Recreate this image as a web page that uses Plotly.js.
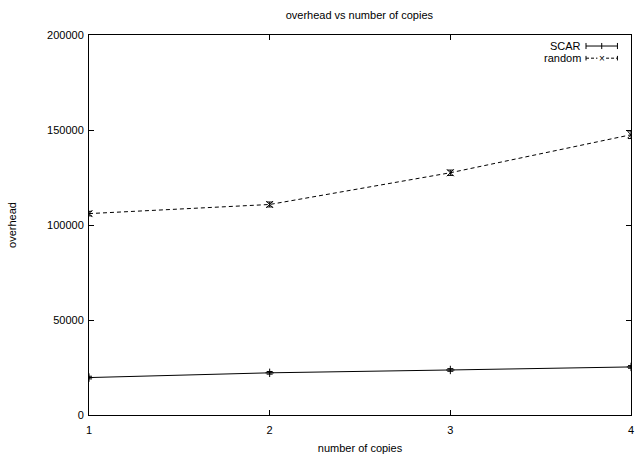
<!DOCTYPE html>
<html>
<head>
<meta charset="utf-8">
<script src="https://cdn.plot.ly/plotly-3.0.1.min.js"></script>
<style>html,body{margin:0;padding:0;background:#fff;}#chart{width:636px;height:458px;}</style>
</head>
<body>
<div id="chart"></div>
<script>
const copies = [1, 2, 3, 4];
const scarOverhead = [19700, 22200, 23700, 25300];
const scarError = [700, 700, 700, 700];
const randomOverhead = [106000, 110800, 127500, 147500];
const randomError = [1200, 1300, 1400, 2000];
const seriesNames = ['SCAR', 'random'];
const xTicks = [1, 2, 3, 4];
const yTicks = [0, 50000, 100000, 150000, 200000];

const font = {family: 'Liberation Sans, Arial, sans-serif', size: 11, color: '#000'};

const traces = [
  {
    x: copies, y: scarOverhead, name: seriesNames[0], type: 'scatter', mode: 'lines+markers',
    line: {color: '#000', width: 1, dash: 'solid'},
    marker: {symbol: 'cross-thin', size: 6, color: '#000', line: {color: '#000', width: 1}},
    error_y: {type: 'data', array: scarError, visible: true, color: '#000', thickness: 1, width: 3},
    showlegend: false
  },
  {
    x: copies, y: randomOverhead, name: seriesNames[1], type: 'scatter', mode: 'lines+markers',
    line: {color: '#000', width: 1, dash: '4px,3px'},
    marker: {symbol: 'x-thin', size: 7, color: '#000', line: {color: '#000', width: 1}},
    error_y: {type: 'data', array: randomError, visible: true, color: '#000', thickness: 1, width: 3},
    showlegend: false
  }
];

const layout = {
  width: 636, height: 458,
  margin: {l: 89, r: 5, t: 35, b: 43},
  paper_bgcolor: '#fff', plot_bgcolor: '#fff',
  font: font,
  title: {text: 'overhead vs number of copies', font: {family: font.family, size: 11, color: '#000'}, x: 0.565, xanchor: 'center', y: 0.975, yanchor: 'top'},
  xaxis: {
    range: [1, 4], tickvals: xTicks, ticktext: xTicks.map(String),
    showgrid: false, zeroline: false, showline: true, linecolor: '#000', linewidth: 1, mirror: 'ticks',
    ticks: 'inside', ticklen: 5, tickcolor: '#000', tickfont: font, ticklabelstandoff: 5,
    title: {text: 'number of copies', font: font, standoff: 9}
  },
  yaxis: {
    range: [0, 200000], tickvals: yTicks, ticktext: yTicks.map(String),
    showgrid: false, zeroline: false, showline: true, linecolor: '#000', linewidth: 1, mirror: 'ticks',
    ticks: 'inside', ticklen: 5, tickcolor: '#000', tickfont: font, ticklabelstandoff: 2,
    title: {text: 'overhead', font: font, standoff: 28}
  },
  showlegend: false,
  annotations: [
    {xref: 'paper', yref: 'paper', x: 0.911, y: 0.971, xanchor: 'right', yanchor: 'middle', text: seriesNames[0], showarrow: false, font: font},
    {xref: 'paper', yref: 'paper', x: 0.911, y: 0.939, xanchor: 'right', yanchor: 'middle', text: seriesNames[1], showarrow: false, font: font},
    {xref: 'paper', yref: 'paper', x: 0.946, y: 0.939, xanchor: 'center', yanchor: 'middle', text: '×', showarrow: false, font: {family: font.family, size: 10, color: '#000'}}
  ],
  shapes: [
    {type: 'line', xref: 'paper', yref: 'paper', x0: 0.917, x1: 0.975, y0: 0.971, y1: 0.971, line: {color: '#000', width: 1}},
    {type: 'line', xref: 'paper', yref: 'paper', x0: 0.917, x1: 0.917, y0: 0.963, y1: 0.979, line: {color: '#000', width: 1}},
    {type: 'line', xref: 'paper', yref: 'paper', x0: 0.975, x1: 0.975, y0: 0.963, y1: 0.979, line: {color: '#000', width: 1}},
    {type: 'line', xref: 'paper', yref: 'paper', x0: 0.946, x1: 0.946, y0: 0.963, y1: 0.979, line: {color: '#000', width: 1}},
    {type: 'line', xref: 'paper', yref: 'paper', x0: 0.917, x1: 0.938, y0: 0.939, y1: 0.939, line: {color: '#000', width: 1, dash: '3px,2px'}},
    {type: 'line', xref: 'paper', yref: 'paper', x0: 0.954, x1: 0.975, y0: 0.939, y1: 0.939, line: {color: '#000', width: 1, dash: '3px,2px'}},
    {type: 'line', xref: 'paper', yref: 'paper', x0: 0.917, x1: 0.917, y0: 0.933, y1: 0.945, line: {color: '#000', width: 1}},
    {type: 'line', xref: 'paper', yref: 'paper', x0: 0.975, x1: 0.975, y0: 0.933, y1: 0.945, line: {color: '#000', width: 1}}
  ]
};

Plotly.newPlot('chart', traces, layout, {displayModeBar: false, staticPlot: true});
</script>
</body>
</html>
